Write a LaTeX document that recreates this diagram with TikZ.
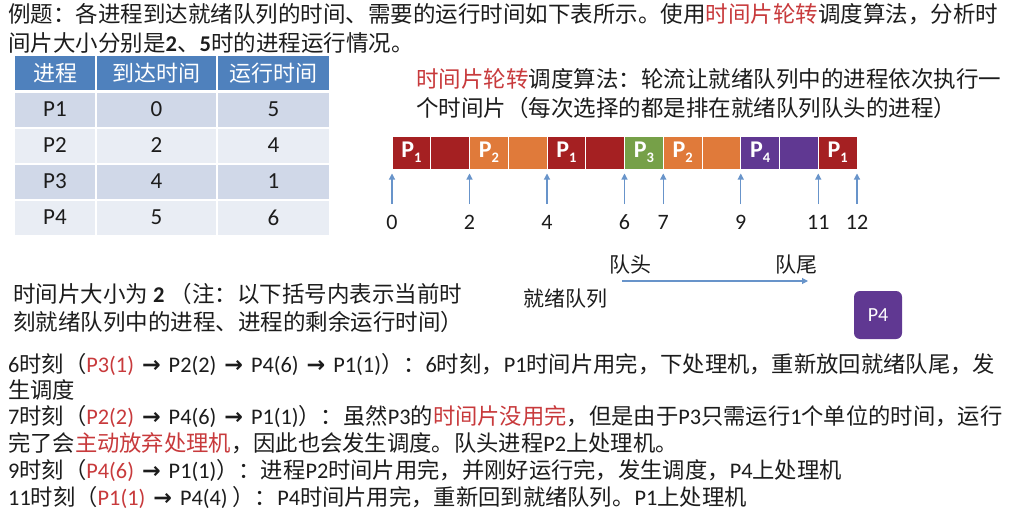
\documentclass[tikz,border=0pt]{standalone}
\usepackage{fontspec}
\setmainfont{Noto Sans CJK SC}
\newfontfamily\lat{Carlito}
\newfontfamily\dv{DejaVu Sans}
\usetikzlibrary{arrows.meta}
\definecolor{myred}{RGB}{200,58,60}
\definecolor{ink}{RGB}{28,28,28}
\definecolor{hdr}{RGB}{79,129,189}
\definecolor{rowa}{RGB}{208,216,232}
\definecolor{rowb}{RGB}{233,237,244}
\definecolor{cp1}{RGB}{165,32,34}
\definecolor{cp2}{RGB}{224,122,58}
\definecolor{cp3}{RGB}{118,160,72}
\definecolor{cp4}{RGB}{96,56,146}
\definecolor{arrblue}{RGB}{104,148,202}
\newcommand\Lat[1]{{\lat #1}}
\newcommand\rd[1]{\textcolor{myred}{#1}}
\newcommand\myarr{\hspace{3pt}{\dv\bfseries →}\hspace{3pt}}
\newcommand\pl[1]{{\lat\bfseries\fontsize{24}{24}\selectfont P\raisebox{-0.2em}{\fontsize{14.5}{14.5}\selectfont #1}}}
\begin{document}
\begin{tikzpicture}[x=1pt,y=-1pt,
  txt/.style={inner sep=0, anchor=base west, text=ink},
  big/.style={font=\fontsize{22.5}{27}\selectfont},
  mid/.style={font=\fontsize{22.5}{27}\selectfont},
  sml/.style={font=\fontsize{22.3}{26}\selectfont},
  cell/.style={inner sep=0, minimum height=34pt},
  hcell/.style={cell, fill=hdr, text=white, font=\fontsize{22}{22}\selectfont},
  bcell/.style={cell, text=ink, font=\lat\fontsize{23}{23}\selectfont},
  slot/.style={inner sep=0, minimum width=38.75pt, minimum height=33pt, draw=white, line width=0.8pt, text=white},
  tick/.style={draw=arrblue, line width=1.1pt, -{Triangle[length=6pt,width=6pt]}},
  num/.style={inner sep=0, text=ink, font=\lat\fontsize{22}{22}\selectfont},
]
\useasboundingbox (0,0) rectangle (1013,522);
\fill[white] (0,0) rectangle (1013,522);

% title
\node[txt,big] (t1) at (8,22.5) {例题：各进程到达就绪队列的时间、需要的运行时间如下表所示。使用\rd{时间片轮转}调度算法，分析时};
\node[txt,big] (t2) at (8,51) {间片大小分别是\Lat{\bfseries 2}、\Lat{\bfseries 5}时的进程运行情况。};

% table
\node[hcell, minimum width=80pt] (h1) at (55,73) {进程};
\node[hcell, minimum width=119pt] (h2) at (156.5,73) {到达时间};
\node[hcell, minimum width=111pt] (h3) at (273.5,73) {运行时间};
\foreach \r/\y/\c/\a/\b/\d in {1/109.5/rowa/P1/0/5, 2/145.5/rowb/P2/2/4, 3/181.5/rowa/P3/4/1, 4/217.5/rowb/P4/5/6}{
  \node[bcell, fill=\c, minimum width=80pt] (r\r a) at (55,\y) {\a};
  \node[bcell, fill=\c, minimum width=119pt] (r\r b) at (156.5,\y) {\b};
  \node[bcell, fill=\c, minimum width=111pt] (r\r c) at (273.5,\y) {\d};
}

% right description
\node[txt,mid] (d1) at (416,87.5) {\rd{时间片轮转}调度算法：轮流让就绪队列中的进程依次执行一};
\node[txt,mid] (d2) at (416,116.5) {个时间片（每次选择的都是排在就绪队列队头的进程）};

% gantt bar
\foreach \i/\c/\l in {0/cp1/\pl{1}, 1/cp1/, 2/cp2/\pl{2}, 3/cp2/, 4/cp1/\pl{1}, 5/cp1/, 6/cp3/\pl{3}, 7/cp2/\pl{2}, 8/cp2/, 9/cp4/\pl{4}, 10/cp4/, 11/cp1/\pl{1}}{
  \node[slot, fill=\c] (c\i) at ({392+38.75*\i+19.375},152.5) {\l};
}
% time ticks
\foreach \t in {0,2,4,6,7,9,11,12}{
  \coordinate (a\t) at ({392+38.75*\t},204);
  \coordinate (b\t) at ({392+38.75*\t},173.5);
  \draw[tick] (a\t) -- (b\t);
  \node[num] (n\t) at ({392+38.75*\t},222) {\t};
}

% ready queue
\node[inner sep=0, text=ink, font=\fontsize{21}{21}\selectfont] (qh) at (630,265) {队头};
\node[inner sep=0, text=ink, font=\fontsize{21}{21}\selectfont] (qt) at (796,265) {队尾};
\coordinate (qa) at (622,281);
\coordinate (qb) at (808,281);
\draw[draw=arrblue, line width=1.1pt, -{Triangle[length=6pt,width=6pt]}] (qa) -- (qb);
\node[inner sep=0, text=ink, font=\fontsize{21}{21}\selectfont] (rq) at (565,299) {就绪队列};
\node[inner sep=0, minimum width=48pt, minimum height=48pt, rounded corners=6pt, fill=cp4, text=white, font=\lat\fontsize{20}{20}\selectfont] (p4) at (878,315) {P4};

% note
\node[txt, font=\fontsize{22.5}{26}\selectfont] (m1) at (13,302.5) {时间片大小为 \Lat{\bfseries 2} （注：以下括号内表示当前时};
\node[txt, font=\fontsize{22.5}{26}\selectfont] (m2) at (13,330.5) {刻就绪队列中的进程、进程的剩余运行时间）};

% explanation lines
\node[txt,sml] (e1) at (8,372) {\Lat{6}时刻（\rd{\Lat{P3(1)}} \myarr\ \Lat{P2(2)} \myarr\ \Lat{P4(6)} \myarr\ \Lat{P1(1)}）：\Lat{6}时刻，\Lat{P1}时间片用完，下处理机，重新放回就绪队尾，发};
\node[txt,sml] (e2) at (8,398) {生调度};
\node[txt,sml] (e3) at (8,424) {\Lat{7}时刻（\rd{\Lat{P2(2)}} \myarr\ \Lat{P4(6)} \myarr\ \Lat{P1(1)}）：虽然\Lat{P3}的\rd{时间片没用完}，但是由于\Lat{P3}只需运行\Lat{1}个单位的时间，运行};
\node[txt,sml] (e4) at (8,451) {完了会\rd{主动放弃处理机}，因此也会发生调度。队头进程\Lat{P2}上处理机。};
\node[txt,sml] (e5) at (8,478) {\Lat{9}时刻（\rd{\Lat{P4(6)}} \myarr\ \Lat{P1(1)}）：进程\Lat{P2}时间片用完，并刚好运行完，发生调度，\Lat{P4}上处理机};
\node[txt,sml] (e6) at (8,505) {\Lat{11}时刻（\rd{\Lat{P1(1)}} \myarr\ \Lat{P4(4)} ）：\Lat{P4}时间片用完，重新回到就绪队列。\Lat{P1}上处理机};
\end{tikzpicture}
\end{document}
